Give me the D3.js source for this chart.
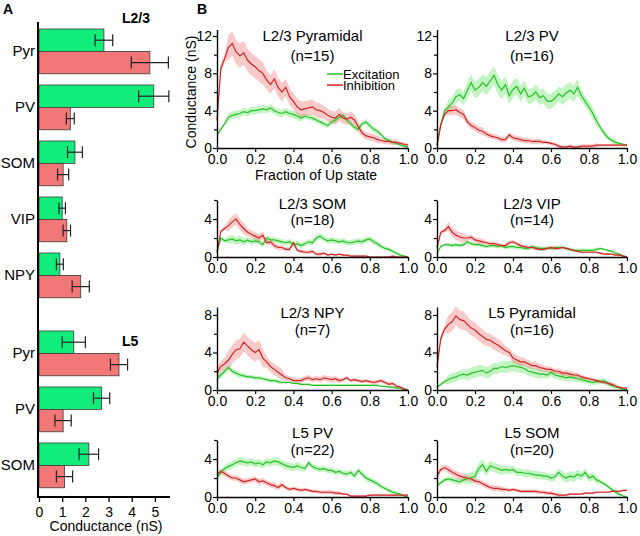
<!DOCTYPE html>
<html>
<head>
<meta charset="utf-8">
<script src="https://cdn.jsdelivr.net/npm/d3@7"></script>
<style>
body { margin: 0; background: #fff; }
text { font-family: Arial, "Liberation Sans", sans-serif; fill: #000; }
</style>
</head>
<body>
<script>
// ---- panel A data (nS, mean and sem) ----
var cellsL23 = ["Pyr", "PV", "SOM", "VIP", "NPY"];
var excL23 = [2.8, 4.95, 1.55, 1.0, 0.9];
var excErrL23 = [0.38, 0.65, 0.32, 0.14, 0.15];
var inhL23 = [4.78, 1.35, 1.04, 1.2, 1.8];
var inhErrL23 = [0.8, 0.17, 0.24, 0.16, 0.37];

var cellsL5 = ["Pyr", "PV", "SOM"];
var excL5 = [1.5, 2.7, 2.15];
var excErrL5 = [0.5, 0.35, 0.42];
var inhL5 = [3.45, 1.04, 1.1];
var inhErrL5 = [0.37, 0.35, 0.35];

var barTicks = [0, 1, 2, 3, 4, 5];

// ---- panel B data: conductance every 0.02 of the Up state ----
var step = 0.02;
var pyr23Exc = [1.4,2.0,2.6,3.3,3.5,3.6,3.7,3.9,3.8,4.0, 4.0,4.1,4.2,4.1,4.3,4.0,3.8,3.7,3.9,3.7, 3.6,3.4,3.2,3.4,3.3,3.2,3.0,2.8,2.6,2.4, 2.8,3.0,3.3,3.5,3.0,2.6,2.2,2.0,2.6,2.8, 2.4,2.0,1.8,1.4,1.0,0.8,0.6,0.5,0.3,0.2,0.1];
var pyr23Inh = [3.0,8.5,9.6,10.8,11.2,10.3,9.9,10.2,9.4,9.0, 8.7,8.3,8.0,7.3,6.8,7.4,6.5,6.0,6.5,5.5, 5.0,4.4,4.1,4.2,4.3,4.4,4.1,4.0,3.8,3.5, 3.3,3.2,3.6,3.2,3.1,3.3,3.0,2.3,1.6,1.3, 1.2,1.1,0.9,0.8,0.7,0.7,0.6,0.6,0.5,0.4,0.3];
var pv23Exc = [0.3,2.5,4.0,4.4,4.8,5.5,5.7,5.3,6.2,7.0, 6.2,6.5,7.0,6.6,7.2,7.8,6.8,6.2,6.8,5.6, 6.3,6.6,5.8,6.4,5.5,5.6,6.0,5.4,5.6,5.0, 5.0,5.3,5.8,5.5,5.9,6.2,5.8,6.5,5.6,5.0, 4.4,3.7,2.9,2.2,1.6,1.1,0.8,0.6,0.5,0.4,0.3];
var pv23Inh = [0.3,2.5,3.6,4.0,4.0,4.1,3.8,3.6,2.8,2.4, 2.2,1.9,1.8,1.5,1.3,1.2,1.1,0.9,0.9,1.4, 1.1,1.0,0.9,0.8,0.8,0.7,0.7,0.7,0.6,0.6, 0.5,0.4,0.2,0.1,0.1,0.2,0.1,0.1,0.2,0.2, 0.2,0.2,0.3,0.3,0.3,0.3,0.3,0.3,0.3,0.3,0.3];
var som23Exc = [0.5,2.0,1.7,1.8,1.9,1.7,1.8,1.6,1.8,1.6, 1.7,1.6,1.3,2.0,1.8,1.8,1.7,1.6,1.5,1.6, 1.3,1.4,1.2,1.4,1.6,1.5,2.0,2.2,1.9,1.7, 1.8,1.7,1.6,1.7,1.5,1.5,1.6,1.7,1.6,1.8, 1.9,1.6,1.4,1.1,0.9,0.8,0.6,0.4,0.2,0.1,0.0];
var som23Inh = [0.5,2.7,3.0,3.3,3.7,4.0,3.4,3.0,2.6,2.4, 2.2,2.0,2.3,1.5,1.6,1.2,1.0,1.0,0.8,0.8, 1.5,0.7,0.6,0.5,0.5,0.6,0.3,0.3,0.4,0.2, 0.3,0.2,0.3,0.2,0.2,0.1,0.1,0.1,0.1,0.1, 0.0,0.0,0.0,0.0,0.0,0.0,0.1,0.0,0.0,0.0,0.0];
var vip23Exc = [0.4,1.1,1.3,1.3,1.2,1.3,1.2,1.3,1.6,1.4, 1.3,1.3,1.2,1.1,1.2,1.2,1.1,1.2,1.0,1.1, 1.1,1.0,1.0,0.9,0.9,1.1,1.0,0.9,0.9,0.9, 0.9,1.0,1.0,1.0,0.9,0.8,0.7,0.7,0.7,0.7, 0.7,0.7,0.8,0.9,0.8,0.7,0.6,0.4,0.3,0.1,0.0];
var vip23Inh = [1.0,2.6,2.8,3.2,2.6,2.3,2.1,2.0,2.0,2.1, 1.8,1.7,1.6,1.5,1.4,1.4,1.3,1.2,1.2,1.5, 1.6,1.4,1.2,1.1,1.0,1.0,0.9,0.8,0.8,0.9, 1.0,0.9,0.9,1.0,0.9,0.8,0.7,0.6,0.5,0.5, 0.5,0.5,0.5,0.4,0.3,0.3,0.3,0.2,0.2,0.1,0.0];
var npy23Exc = [1.2,1.6,2.0,2.4,2.0,1.8,1.6,1.5,1.4,1.4, 1.3,1.3,1.2,1.1,1.0,1.0,0.9,0.8,0.8,0.8, 0.7,0.7,0.6,0.6,0.6,0.5,0.5,0.5,0.5,0.5, 0.5,0.5,0.5,0.5,0.5,0.5,0.5,0.5,0.5,0.5, 0.5,0.5,0.5,0.4,0.4,0.3,0.3,0.2,0.2,0.1,0.0];
var npy23Inh = [1.8,2.5,2.8,3.2,3.8,4.3,4.4,5.1,4.7,4.3, 4.0,4.3,3.4,3.0,2.5,2.2,1.9,1.6,1.3,1.2, 1.0,1.0,1.0,1.2,1.3,1.1,1.2,1.1,1.3,1.2, 1.1,1.2,1.0,1.1,1.3,1.0,1.1,1.0,0.9,1.0, 0.9,0.8,0.9,1.0,0.8,0.6,0.7,0.4,0.3,0.1,0.0];
var pyr5Exc = [0.3,0.6,0.9,1.1,1.3,1.4,1.6,1.7,1.6,1.8, 1.9,2.0,2.1,1.8,2.0,2.3,2.3,2.5,2.4,2.5, 2.6,2.5,2.4,2.3,2.0,1.9,1.8,1.7,1.7,1.6, 1.9,1.6,1.5,1.4,1.3,1.4,1.3,1.2,1.1,1.0, 0.9,0.8,0.9,0.9,1.0,0.7,0.5,0.4,0.2,0.1,0.0];
var pyr5Inh = [2.5,5.5,6.5,7.0,7.3,7.9,7.5,7.4,7.0,6.6, 6.4,6.0,5.7,5.4,5.3,5.0,4.8,4.5,4.2,4.0, 3.4,3.2,3.0,3.0,2.8,2.6,2.6,2.4,2.3,2.2, 2.2,2.0,2.0,1.8,1.8,1.7,1.6,1.6,1.4,1.3, 1.2,1.1,1.0,0.9,0.8,0.7,0.6,0.4,0.3,0.2,0.2];
var pv5Exc = [2.0,2.6,3.0,3.2,3.4,3.6,3.8,3.7,3.6,3.7, 3.5,3.6,3.4,3.7,3.6,3.8,3.7,3.5,3.3,3.2, 3.1,3.3,3.1,3.0,3.6,3.2,3.0,2.9,3.0,2.8, 2.8,2.6,2.7,2.5,2.4,2.6,2.2,2.8,2.4,2.0, 1.8,1.6,1.4,1.1,0.9,0.7,0.5,0.4,0.3,0.1,0.0];
var pv5Inh = [2.4,2.7,2.5,2.2,2.0,2.0,1.8,1.6,1.7,1.8, 1.9,1.6,1.7,1.5,1.3,1.2,1.0,1.3,1.0,0.8, 0.9,0.8,0.7,0.8,0.7,0.6,0.6,0.5,0.5,0.5, 0.5,0.4,0.4,0.3,0.3,0.1,0.1,0.1,0.1,0.1, 0.2,0.2,0.2,0.2,0.2,0.2,0.2,0.2,0.2,0.2,0.2];
var som5Exc = [1.2,1.5,1.8,1.9,1.8,1.7,1.6,1.8,1.9,2.0, 2.2,3.0,3.4,2.7,3.3,3.1,3.0,2.8,2.9,2.8, 2.9,2.6,2.6,2.5,2.5,2.4,2.3,2.3,2.2,2.2, 2.0,2.1,2.6,2.2,2.0,2.2,2.1,2.4,2.2,2.6, 2.0,2.2,1.8,1.6,1.4,1.1,0.8,0.5,0.3,0.1,0.0];
var som5Inh = [2.2,2.9,3.1,2.9,2.6,2.4,2.2,2.1,2.0,1.9, 1.7,1.6,1.4,1.2,1.0,0.9,0.9,0.8,0.8,0.7, 0.8,0.7,0.6,0.6,0.6,0.6,0.6,0.5,0.5,0.4, 0.4,0.3,0.2,0.2,0.2,0.3,0.3,0.3,0.3,0.4, 0.4,0.4,0.5,0.5,0.5,0.5,0.6,0.6,0.6,0.7,0.7];

// sem every 0.1 of the Up state
var pyr23ExcSem = [0.2,0.4,0.4,0.4,0.4,0.3,0.3,0.3,0.3,0.2,0.1];
var pyr23InhSem = [0.5,1.3,1.2,1.0,0.9,0.8,0.7,0.6,0.4,0.3,0.2];
var pv23ExcSem = [0.2,0.7,0.9,1.0,0.9,0.8,0.8,0.9,0.6,0.3,0.1];
var pv23InhSem = [0.2,0.5,0.4,0.3,0.3,0.3,0.2,0.2,0.2,0.1,0.1];
var som23ExcSem = [0.2,0.4,0.3,0.3,0.3,0.3,0.3,0.3,0.3,0.2,0.1];
var som23InhSem = [0.2,0.6,0.4,0.3,0.2,0.2,0.1,0.1,0.1,0.1,0.1];
var vip23ExcSem = [0.1,0.2,0.2,0.2,0.2,0.2,0.2,0.2,0.2,0.1,0.1];
var vip23InhSem = [0.2,0.5,0.3,0.2,0.2,0.2,0.2,0.1,0.1,0.1,0.1];
var npy23ExcSem = [0.3,0.3,0.2,0.2,0.1,0.1,0.1,0.1,0.1,0.1,0.1];
var npy23InhSem = [0.6,1.0,1.0,0.6,0.3,0.3,0.3,0.2,0.2,0.2,0.1];
var pyr5ExcSem = [0.2,0.5,0.6,0.6,0.6,0.5,0.4,0.4,0.3,0.3,0.1];
var pyr5InhSem = [0.4,1.0,0.8,0.7,0.5,0.4,0.3,0.3,0.2,0.2,0.1];
var pv5ExcSem = [0.3,0.4,0.4,0.4,0.4,0.3,0.3,0.3,0.3,0.2,0.1];
var pv5InhSem = [0.3,0.3,0.3,0.3,0.2,0.2,0.2,0.1,0.1,0.1,0.1];
var som5ExcSem = [0.2,0.3,0.6,0.5,0.4,0.4,0.4,0.5,0.4,0.2,0.1];
var som5InhSem = [0.3,0.4,0.3,0.3,0.2,0.2,0.2,0.1,0.1,0.1,0.1];

var panelNames = ["L2/3 Pyramidal", "L2/3 PV", "L2/3 SOM", "L2/3 VIP", "L2/3 NPY", "L5 Pyramidal", "L5 PV", "L5 SOM"];
var panelN = [15, 16, 18, 14, 7, 16, 22, 20];
var fracTicks = [0, 0.2, 0.4, 0.6, 0.8, 1.0];

var barGreen = "#12ec7a", barRed = "#f27878";
var lineGreen = "#26c226", lineRed = "#d42424";

var svg = d3.select("body").append("svg")
	.attr("width", 640)
	.attr("height", 536);

// ================= A =================
svg.append("text").attr("x", 3).attr("y", 14)
	.attr("font-weight", "bold").attr("font-size", "14px").text("A");

var xA = d3.scaleLinear().domain([0, 5.65]).range([39, 170]);
var yL23 = d3.scaleBand().domain(cellsL23).range([23.4, 303.4]).paddingInner(0.2).paddingOuter(0.1);
var yL5 = d3.scaleBand().domain(cellsL5).range([325.4, 493.4]).paddingInner(0.2).paddingOuter(0.1);
var ySub = d3.scaleBand().domain(["exc", "inh"]).range([0, yL23.bandwidth()]);

function drawBars(cells, exc, excErr, inh, inhErr, yScale) {
	var rows = [];
	cells.forEach(function (c, i) {
		rows.push({ cell: c, kind: "exc", v: exc[i], e: excErr[i] });
		rows.push({ cell: c, kind: "inh", v: inh[i], e: inhErr[i] });
	});
	var g = svg.append("g");
	g.selectAll("rect").data(rows).enter().append("rect")
		.attr("x", xA(0))
		.attr("y", function (d) { return yScale(d.cell) + ySub(d.kind); })
		.attr("width", function (d) { return xA(d.v) - xA(0); })
		.attr("height", ySub.bandwidth())
		.attr("fill", function (d) { return d.kind == "exc" ? barGreen : barRed; })
		.attr("stroke", "#3a3a3a")
		.attr("stroke-width", 0.8);

	var eb = g.selectAll("g.err").data(rows).enter().append("g")
		.attr("transform", function (d) {
			return "translate(0," + (yScale(d.cell) + ySub(d.kind) + ySub.bandwidth() / 2) + ")";
		})
		.attr("stroke", "#222")
		.attr("stroke-width", 1.2);
	eb.append("line")
		.attr("x1", function (d) { return xA(d.v - d.e); })
		.attr("x2", function (d) { return xA(d.v + d.e); });
	eb.append("line")
		.attr("x1", function (d) { return xA(d.v - d.e); })
		.attr("x2", function (d) { return xA(d.v - d.e); })
		.attr("y1", -6).attr("y2", 6);
	eb.append("line")
		.attr("x1", function (d) { return xA(d.v + d.e); })
		.attr("x2", function (d) { return xA(d.v + d.e); })
		.attr("y1", -6).attr("y2", 6);

	g.selectAll("text").data(cells).enter().append("text")
		.attr("x", 35)
		.attr("y", function (c) { return yScale(c) + ySub.bandwidth(); })
		.attr("dy", "0.33em")
		.attr("text-anchor", "end")
		.attr("font-size", "15px")
		.text(function (c) { return c; });
}

drawBars(cellsL23, excL23, excErrL23, inhL23, inhErrL23, yL23);
drawBars(cellsL5, excL5, excErrL5, inhL5, inhErrL5, yL5);

svg.append("text").attr("x", 122).attr("y", 23)
	.attr("font-weight", "bold").attr("font-size", "14px").text("L2/3");
svg.append("text").attr("x", 122).attr("y", 346)
	.attr("font-weight", "bold").attr("font-size", "14px").text("L5");

var axA = svg.append("g")
	.attr("transform", "translate(0,497)")
	.call(d3.axisBottom(xA).tickValues(barTicks).tickFormat(d3.format("d")).tickSize(5).tickPadding(5).tickSizeOuter(0));
axA.select(".domain").remove();
axA.selectAll("text").attr("font-size", "14px").attr("font-family", null);
axA.selectAll("line").attr("stroke-width", 1.3);
svg.append("path")
	.attr("d", "M38,22V497H170")
	.attr("fill", "none")
	.attr("stroke", "#000")
	.attr("stroke-width", 2);
svg.append("text").attr("x", 106).attr("y", 531)
	.attr("text-anchor", "middle").attr("font-size", "14px").text("Conductance (nS)");

// ================= B =================
svg.append("text").attr("x", 197).attr("y", 14)
	.attr("font-weight", "bold").attr("font-size", "14px").text("B");

var panels = [
	{ exc: pyr23Exc, inh: pyr23Inh, excSem: pyr23ExcSem, inhSem: pyr23InhSem },
	{ exc: pv23Exc, inh: pv23Inh, excSem: pv23ExcSem, inhSem: pv23InhSem },
	{ exc: som23Exc, inh: som23Inh, excSem: som23ExcSem, inhSem: som23InhSem },
	{ exc: vip23Exc, inh: vip23Inh, excSem: vip23ExcSem, inhSem: vip23InhSem },
	{ exc: npy23Exc, inh: npy23Inh, excSem: npy23ExcSem, inhSem: npy23InhSem },
	{ exc: pyr5Exc, inh: pyr5Inh, excSem: pyr5ExcSem, inhSem: pyr5InhSem },
	{ exc: pv5Exc, inh: pv5Inh, excSem: pv5ExcSem, inhSem: pv5InhSem },
	{ exc: som5Exc, inh: som5Inh, excSem: som5ExcSem, inhSem: som5InhSem }
];

// layout of the 2 x 4 grid
var colX = [[217, 408], [437, 627]];
var rowLayout = [
	{ base: 148, top: 29.5, max: 12.7, major: [0, 4, 8, 12], minor: [2, 6, 10], title: 41, sub: 61 },
	{ base: 257, top: 200, max: 6, major: [0, 4], minor: [2, 6], title: 209, sub: 225 },
	{ base: 390, top: 307, max: 8.85, major: [0, 4, 8], minor: [2, 6], title: 318, sub: 335 },
	{ base: 497, top: 440, max: 6, major: [0, 4], minor: [2, 6], title: 438, sub: 455 }
];

panels.forEach(function (p, k) {
	var col = k % 2, row = Math.floor(k / 2);
	var L = rowLayout[row];
	var x = d3.scaleLinear().domain([0, 1]).range(colX[col]);
	var y = d3.scaleLinear().domain([0, L.max]).range([L.base, L.top]);
	var g = svg.append("g");

	function band(vals, sem) {
		return d3.area()
			.x(function (d, i) { return x(i * step); })
			.y0(function (d, i) { return y(Math.max(0, d - sem[Math.round(i / 5)])); })
			.y1(function (d, i) { return y(d + sem[Math.round(i / 5)]); })(vals);
	}
	var line = d3.line()
		.x(function (d, i) { return x(i * step); })
		.y(function (d) { return y(d); });

	g.append("path").attr("d", band(p.exc, p.excSem)).attr("fill", "rgba(70,225,70,0.33)");
	g.append("path").attr("d", band(p.inh, p.inhSem)).attr("fill", "rgba(238,90,90,0.32)");
	g.append("path").attr("d", line(p.exc)).attr("fill", "none").attr("stroke", lineGreen).attr("stroke-width", 1.2);
	g.append("path").attr("d", line(p.inh)).attr("fill", "none").attr("stroke", lineRed).attr("stroke-width", 1.2);

	var ax = g.append("g")
		.attr("transform", "translate(0," + L.base + ")")
		.call(d3.axisBottom(x).tickValues(fracTicks).tickFormat(d3.format(".1f")).tickSize(4).tickPadding(2).tickSizeOuter(0));
	var ay = g.append("g")
		.attr("transform", "translate(" + colX[col][0] + ",0)")
		.call(d3.axisLeft(y).tickValues(L.major).tickFormat(d3.format("d")).tickSize(4).tickPadding(1).tickSizeOuter(0));
	var ayMinor = g.append("g")
		.attr("transform", "translate(" + colX[col][0] + ",0)")
		.call(d3.axisLeft(y).tickValues(L.minor).tickFormat("").tickSize(3).tickSizeOuter(0));
	ayMinor.select(".domain").remove();
	[ax, ay, ayMinor].forEach(function (a) {
		a.selectAll("text").attr("font-size", "14px").attr("font-family", null);
		a.selectAll("line").attr("stroke-width", 1.2);
		a.select(".domain").attr("stroke-width", 1.4);
	});

	var cx = (colX[col][0] + colX[col][1]) / 2;
	g.append("text").attr("x", cx).attr("y", L.title)
		.attr("text-anchor", "middle").attr("font-size", "15px").text(panelNames[k]);
	g.append("text").attr("x", cx).attr("y", L.sub)
		.attr("text-anchor", "middle").attr("font-size", "15px").text("(n=" + panelN[k] + ")");
});

// axis titles and legend (first panel only)
svg.append("text")
	.attr("transform", "translate(196,92) rotate(-90)")
	.attr("text-anchor", "middle").attr("font-size", "14px").text("Conductance (nS)");
svg.append("text").attr("x", 316).attr("y", 180)
	.attr("text-anchor", "middle").attr("font-size", "14px").text("Fraction of Up state");

var legend = svg.append("g").attr("transform", "translate(327,74)");
[["Excitation", lineGreen], ["Inhibition", lineRed]].forEach(function (e, i) {
	legend.append("line").attr("x1", 0).attr("x2", 16).attr("y1", i * 11).attr("y2", i * 11)
		.attr("stroke", e[1]).attr("stroke-width", 1.5);
	legend.append("text").attr("x", 16).attr("y", i * 11).attr("dy", "0.35em")
		.attr("font-size", "13px").text(e[0]);
});
</script>
</body>
</html>
